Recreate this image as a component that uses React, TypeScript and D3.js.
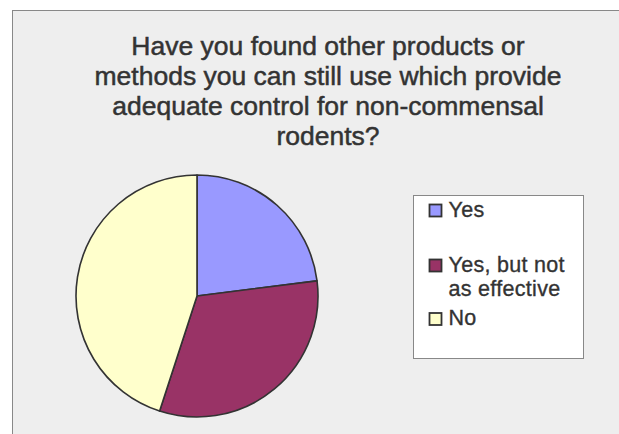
import React from 'react';
import * as d3 from 'd3';

const categories = ['Yes', 'Yes, but not as effective', 'No'];
const values = [23, 32, 45];
const legendLines = [['Yes'], ['Yes, but not', 'as effective'], ['No']];
const titleLines = [
  'Have you found other products or',
  'methods you can still use which provide',
  'adequate control for non-commensal',
  'rodents?',
];

const COLORS = ['#9999ff', '#993366', '#ffffcc'];
const FONT = '"Liberation Sans", Arial, sans-serif';

const App: React.FC = () => {
  const width = 619;
  const height = 434;
  const cx = 197;
  const cy = 296;
  const radius = 121;

  const pie = d3.pie<number>().sort(null).value(d => d);
  const arcs = pie(values);
  const arcGen = d3.arc<d3.PieArcDatum<number>>().innerRadius(0).outerRadius(radius);

  const colorScale = d3.scaleOrdinal<string, string>().domain(categories).range(COLORS);

  // legend item baselines
  const legendBase = [216.5, 271.5, 325];

  return (
    <svg
      width={width}
      height={height}
      style={{ position: 'absolute', left: 0, top: 0, fontFamily: FONT }}
    >
      <rect x={0} y={0} width={width} height={height} fill="#ffffff" />
      <rect x={12.5} y={10.5} width={width + 20} height={height + 20} fill="#eeeeee" stroke="#888888" strokeWidth={1} />

      <g fill="#333333" stroke="#333333" strokeWidth={0.5} fontSize={26.5} textAnchor="middle">
        {titleLines.map((t, i) => (
          <text key={i} x={328} y={55 + i * 30}>{t}</text>
        ))}
      </g>

      <g transform={`translate(${cx},${cy})`}>
        {arcs.map((a, i) => (
          <path
            key={i}
            d={arcGen(a) || ''}
            fill={colorScale(categories[i])}
            stroke="#333333"
            strokeWidth={1.6}
            strokeLinejoin="round"
          />
        ))}
      </g>

      <rect x={413.5} y={195.5} width={170} height={163} fill="#ffffff" stroke="#888888" strokeWidth={1} />
      {categories.map((c, i) => (
        <g key={c}>
          <rect
            x={429.5}
            y={legendBase[i] - 12}
            width={12}
            height={12}
            fill={colorScale(c)}
            stroke="#333333"
            strokeWidth={1.8}
          />
          {legendLines[i].map((l, j) => (
            <text key={j} x={448.5} y={legendBase[i] + j * 24.5} fontSize={21.5} fill="#333333" stroke="#333333" strokeWidth={0.35} letterSpacing={0.3}>{l}</text>
          ))}
        </g>
      ))}
    </svg>
  );
};

export default App;
